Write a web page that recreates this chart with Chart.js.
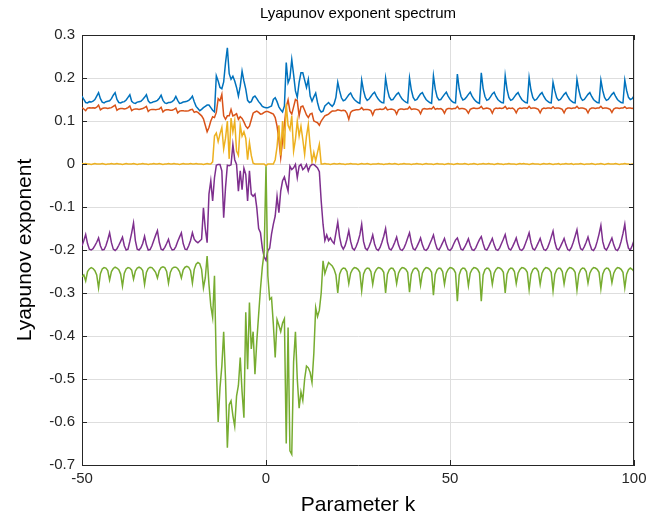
<!DOCTYPE html>
<html>
<head>
<meta charset="utf-8">
<script src="https://cdn.jsdelivr.net/npm/chart.js@4.4.1/dist/chart.umd.min.js"></script>
<style>
  html, body { margin: 0; padding: 0; background: #fff; }
  #wrap { width: 656px; height: 520px; }
</style>
</head>
<body>
<div id="wrap"><canvas id="lyapChart" width="656" height="520"></canvas></div>
<script>
// Parameter k runs from -50 to 100 in steps of 0.5 (301 samples)
const kStart = -50;
const kStep = 0.5;

// first exponent (blue)
const lyap1 = [
  0.158, 0.150, 0.143, 0.142, 0.145, 0.144, 0.146, 0.150, 0.158, 0.166,
  0.152, 0.144, 0.142, 0.145, 0.146, 0.147, 0.152, 0.160, 0.166, 0.150,
  0.143, 0.142, 0.144, 0.145, 0.149, 0.155, 0.161, 0.146, 0.142, 0.141,
  0.144, 0.145, 0.146, 0.150, 0.155, 0.161, 0.147, 0.142, 0.143, 0.145,
  0.146, 0.148, 0.153, 0.160, 0.148, 0.142, 0.141, 0.143, 0.143, 0.145,
  0.149, 0.157, 0.148, 0.141, 0.142, 0.144, 0.145, 0.146, 0.148, 0.152,
  0.158, 0.145, 0.134, 0.129, 0.124, 0.127, 0.131, 0.134, 0.137, 0.137,
  0.131, 0.125, 0.121, 0.205, 0.193, 0.178, 0.175, 0.191, 0.235, 0.270,
  0.210, 0.197, 0.204, 0.193, 0.178, 0.158, 0.181, 0.216, 0.193, 0.174,
  0.148, 0.143, 0.145, 0.155, 0.158, 0.152, 0.145, 0.140, 0.134, 0.132,
  0.131, 0.131, 0.133, 0.135, 0.150, 0.154, 0.145, 0.133, 0.126, 0.121,
  0.135, 0.236, 0.189, 0.200, 0.243, 0.208, 0.170, 0.155, 0.190, 0.212,
  0.212, 0.195, 0.178, 0.197, 0.158, 0.146, 0.156, 0.165, 0.143, 0.127,
  0.121, 0.123, 0.135, 0.139, 0.143, 0.138, 0.134, 0.140, 0.155, 0.190,
  0.170, 0.154, 0.147, 0.149, 0.155, 0.161, 0.165, 0.156, 0.150, 0.146,
  0.143, 0.141, 0.195, 0.171, 0.155, 0.148, 0.151, 0.157, 0.163, 0.167,
  0.158, 0.151, 0.146, 0.143, 0.142, 0.200, 0.173, 0.156, 0.149, 0.150,
  0.156, 0.162, 0.166, 0.158, 0.151, 0.147, 0.144, 0.142, 0.200, 0.172,
  0.155, 0.148, 0.150, 0.157, 0.163, 0.166, 0.157, 0.150, 0.146, 0.143,
  0.141, 0.205, 0.174, 0.156, 0.149, 0.150, 0.156, 0.162, 0.167, 0.158,
  0.151, 0.146, 0.143, 0.142, 0.209, 0.175, 0.157, 0.149, 0.151, 0.156,
  0.162, 0.167, 0.158, 0.151, 0.146, 0.143, 0.141, 0.212, 0.176, 0.157,
  0.148, 0.150, 0.156, 0.163, 0.167, 0.157, 0.150, 0.146, 0.143, 0.142,
  0.205, 0.173, 0.155, 0.148, 0.150, 0.156, 0.162, 0.166, 0.157, 0.150,
  0.146, 0.143, 0.142, 0.201, 0.172, 0.155, 0.148, 0.150, 0.156, 0.162,
  0.166, 0.157, 0.150, 0.146, 0.143, 0.142, 0.190, 0.170, 0.154, 0.148,
  0.150, 0.156, 0.162, 0.166, 0.157, 0.150, 0.146, 0.143, 0.142, 0.197,
  0.172, 0.155, 0.148, 0.150, 0.156, 0.162, 0.166, 0.157, 0.150, 0.146,
  0.143, 0.142, 0.195, 0.171, 0.155, 0.148, 0.150, 0.156, 0.162, 0.166,
  0.157, 0.150, 0.146, 0.143, 0.142, 0.195, 0.171, 0.155, 0.150, 0.152,
  0.158
];

// second exponent (orange)
const lyap2 = [
  0.131, 0.128, 0.124, 0.130, 0.131, 0.130, 0.131, 0.130, 0.132, 0.137,
  0.126, 0.129, 0.130, 0.130, 0.129, 0.130, 0.131, 0.134, 0.137, 0.125,
  0.128, 0.129, 0.129, 0.128, 0.129, 0.131, 0.135, 0.124, 0.127, 0.128,
  0.128, 0.127, 0.128, 0.129, 0.131, 0.134, 0.122, 0.126, 0.127, 0.127,
  0.126, 0.127, 0.128, 0.132, 0.121, 0.125, 0.126, 0.126, 0.125, 0.125,
  0.127, 0.130, 0.119, 0.123, 0.124, 0.124, 0.123, 0.123, 0.124, 0.126,
  0.127, 0.120, 0.122, 0.120, 0.116, 0.112, 0.105, 0.090, 0.075, 0.085,
  0.100, 0.110, 0.108, 0.120, 0.152, 0.147, 0.162, 0.112, 0.104, 0.112,
  0.112, 0.127, 0.112, 0.114, 0.117, 0.104, 0.110, 0.106, 0.098, 0.088,
  0.083, 0.088, 0.103, 0.118, 0.121, 0.123, 0.120, 0.116, 0.117, 0.120,
  0.122, 0.122, 0.120, 0.118, 0.116, 0.108, 0.088, 0.057, 0.015, 0.054,
  0.092, 0.133, 0.149, 0.123, 0.116, 0.133, 0.150, 0.147, 0.112, 0.133,
  0.135, 0.125, 0.114, 0.108, 0.116, 0.118, 0.100, 0.098, 0.096, 0.090,
  0.100, 0.106, 0.112, 0.114, 0.116, 0.120, 0.123, 0.123, 0.124, 0.126,
  0.125, 0.124, 0.125, 0.124, 0.118, 0.104, 0.120, 0.124, 0.125, 0.126,
  0.126, 0.127, 0.131, 0.126, 0.127, 0.127, 0.126, 0.124, 0.114, 0.125,
  0.127, 0.127, 0.128, 0.127, 0.128, 0.132, 0.126, 0.127, 0.128, 0.127,
  0.125, 0.116, 0.126, 0.128, 0.128, 0.127, 0.128, 0.128, 0.133, 0.127,
  0.128, 0.128, 0.127, 0.125, 0.117, 0.127, 0.129, 0.128, 0.128, 0.129,
  0.128, 0.133, 0.127, 0.129, 0.128, 0.129, 0.126, 0.118, 0.127, 0.129,
  0.129, 0.128, 0.129, 0.129, 0.134, 0.128, 0.129, 0.129, 0.128, 0.125,
  0.118, 0.127, 0.129, 0.130, 0.129, 0.129, 0.130, 0.134, 0.128, 0.129,
  0.130, 0.129, 0.127, 0.118, 0.128, 0.130, 0.129, 0.130, 0.129, 0.130,
  0.134, 0.128, 0.130, 0.129, 0.130, 0.127, 0.119, 0.128, 0.130, 0.129,
  0.130, 0.130, 0.129, 0.134, 0.129, 0.130, 0.130, 0.129, 0.127, 0.119,
  0.128, 0.130, 0.129, 0.130, 0.130, 0.129, 0.133, 0.129, 0.130, 0.130,
  0.129, 0.127, 0.119, 0.128, 0.130, 0.130, 0.129, 0.130, 0.130, 0.134,
  0.129, 0.130, 0.130, 0.129, 0.127, 0.119, 0.128, 0.130, 0.130, 0.129,
  0.130, 0.130, 0.134, 0.129, 0.130, 0.130, 0.129, 0.127, 0.120, 0.128,
  0.130, 0.130, 0.129, 0.130, 0.130, 0.133, 0.129, 0.130, 0.130, 0.129,
  0.130
];

// third exponent (yellow)
const lyap3 = [
  0.001, 0.000, 0.001, 0.000, 0.000, -0.001, 0.000, 0.001, 0.000, 0.000,
  0.000, 0.001, 0.000, -0.001, 0.000, 0.000, 0.001, 0.000, 0.000, 0.001,
  0.000, 0.000, -0.001, 0.000, 0.001, 0.000, 0.000, 0.000, 0.001, 0.000,
  -0.001, 0.000, 0.000, 0.001, 0.000, 0.000, -0.001, 0.000, 0.000, 0.001,
  0.000, 0.000, 0.001, 0.000, -0.001, 0.000, 0.000, 0.001, 0.000, 0.000,
  0.001, 0.000, 0.000, -0.001, 0.000, 0.001, 0.000, 0.000, 0.000, 0.001,
  0.000, 0.000, 0.001, 0.000, 0.000, 0.000, -0.001, 0.000, 0.001, 0.000,
  0.000, 0.005, 0.065, 0.072, 0.052, 0.070, 0.085, 0.035, 0.060, 0.100,
  0.012, 0.107, 0.075, 0.100, 0.030, 0.020, 0.090, 0.065, 0.075, 0.060,
  0.010, 0.050, 0.020, 0.002, 0.000, 0.000, 0.000, 0.000, 0.000, 0.000,
  -0.004, 0.000, 0.000, 0.000, 0.000, 0.010, 0.040, 0.090, 0.020, 0.100,
  0.035, 0.140, 0.090, 0.080, 0.112, 0.030, 0.057, 0.100, 0.065, 0.088,
  0.057, 0.022, 0.065, 0.092, 0.042, 0.005, 0.027, 0.007, 0.027, 0.046,
  0.000, 0.000, 0.001, 0.000, 0.000, -0.001, 0.000, 0.001, 0.000, 0.000,
  0.001, 0.000, 0.000, -0.001, 0.000, 0.000, 0.001, 0.000, 0.000, 0.000,
  -0.001, 0.000, 0.001, 0.000, 0.000, 0.001, 0.000, -0.001, 0.000, 0.000,
  0.000, 0.001, 0.000, 0.000, -0.001, 0.000, 0.000, 0.001, 0.000, 0.000,
  0.001, 0.000, -0.001, 0.000, 0.000, 0.001, 0.000, 0.000, 0.000, -0.001,
  0.000, 0.000, 0.001, 0.000, 0.000, -0.001, 0.000, 0.001, 0.000, 0.000,
  0.000, -0.001, 0.000, 0.001, 0.000, 0.000, 0.000, -0.001, 0.000, 0.001,
  0.000, 0.000, -0.001, 0.000, 0.001, 0.000, 0.000, 0.000, 0.001, 0.000,
  -0.001, 0.000, 0.000, 0.001, 0.000, -0.001, 0.000, 0.000, 0.001, 0.000,
  0.000, 0.001, 0.000, 0.000, -0.001, 0.000, 0.001, 0.000, 0.000, -0.001,
  0.000, 0.000, 0.001, 0.000, 0.000, 0.000, -0.001, 0.000, 0.001, 0.000,
  0.001, 0.000, 0.000, -0.001, 0.000, 0.001, 0.000, 0.000, 0.000, -0.001,
  0.000, 0.001, 0.000, 0.000, 0.001, 0.000, -0.001, 0.000, 0.000, 0.001,
  -0.001, 0.000, 0.000, 0.001, 0.000, 0.000, 0.001, -0.001, 0.000, 0.000,
  0.000, 0.001, 0.000, -0.001, 0.000, 0.000, 0.000, 0.001, 0.000, -0.001,
  0.000, 0.000, 0.001, 0.000, -0.001, 0.000, 0.001, 0.000, 0.000, 0.000,
  0.001, 0.000, -0.001, 0.000, 0.000, 0.001, 0.000, 0.000, -0.001, 0.000,
  0.000
];

// fourth exponent (purple)
const lyap4 = [
  -0.190, -0.178, -0.164, -0.185, -0.198, -0.200, -0.197, -0.190, -0.182, -0.172,
  -0.190, -0.200, -0.199, -0.190, -0.176, -0.160, -0.183, -0.198, -0.201, -0.197,
  -0.189, -0.180, -0.170, -0.190, -0.200, -0.198, -0.180, -0.160, -0.137, -0.178,
  -0.198, -0.200, -0.195, -0.185, -0.168, -0.188, -0.200, -0.199, -0.190, -0.178,
  -0.166, -0.155, -0.182, -0.198, -0.200, -0.194, -0.185, -0.175, -0.192, -0.200,
  -0.199, -0.192, -0.180, -0.170, -0.160, -0.185, -0.198, -0.199, -0.190, -0.178,
  -0.160, -0.175, -0.180, -0.183, -0.179, -0.175, -0.102, -0.150, -0.183, -0.070,
  -0.039, -0.086, -0.032, -0.003, -0.001, -0.001, -0.016, -0.125, -0.055, -0.003,
  -0.004, -0.002, 0.045, 0.010, -0.001, -0.063, -0.016, -0.060, -0.010, -0.024,
  -0.086, -0.016, -0.070, -0.075, -0.070, -0.102, -0.150, -0.160, -0.195, -0.216,
  -0.224, -0.202, -0.196, -0.163, -0.140, -0.121, -0.075, -0.113, -0.063, -0.039,
  -0.030, -0.047, -0.063, -0.005, -0.013, -0.009, -0.001, -0.032, -0.005, -0.001,
  -0.013, -0.009, -0.001, -0.016, -0.005, -0.001, -0.001, -0.005, -0.009, -0.018,
  -0.086, -0.140, -0.178, -0.165, -0.178, -0.172, -0.180, -0.185, -0.160, -0.135,
  -0.170, -0.190, -0.198, -0.190, -0.175, -0.155, -0.180, -0.196, -0.200, -0.192,
  -0.180, -0.165, -0.140, -0.180, -0.196, -0.200, -0.192, -0.180, -0.165, -0.186,
  -0.198, -0.201, -0.194, -0.182, -0.168, -0.150, -0.182, -0.197, -0.200, -0.192,
  -0.182, -0.170, -0.188, -0.199, -0.201, -0.195, -0.185, -0.172, -0.160, -0.183,
  -0.197, -0.200, -0.192, -0.183, -0.172, -0.188, -0.199, -0.201, -0.196, -0.186,
  -0.176, -0.165, -0.184, -0.197, -0.200, -0.192, -0.183, -0.173, -0.188, -0.199,
  -0.201, -0.196, -0.186, -0.177, -0.172, -0.185, -0.198, -0.200, -0.193, -0.184,
  -0.174, -0.189, -0.199, -0.201, -0.195, -0.185, -0.176, -0.169, -0.185, -0.198,
  -0.200, -0.192, -0.183, -0.173, -0.188, -0.199, -0.201, -0.195, -0.185, -0.175,
  -0.164, -0.184, -0.197, -0.200, -0.192, -0.183, -0.172, -0.188, -0.199, -0.201,
  -0.196, -0.185, -0.173, -0.160, -0.183, -0.197, -0.200, -0.192, -0.183, -0.173,
  -0.188, -0.199, -0.201, -0.195, -0.184, -0.170, -0.156, -0.182, -0.197, -0.200,
  -0.192, -0.183, -0.173, -0.188, -0.199, -0.201, -0.194, -0.182, -0.168, -0.153,
  -0.181, -0.197, -0.200, -0.192, -0.182, -0.170, -0.186, -0.199, -0.201, -0.194,
  -0.180, -0.163, -0.143, -0.180, -0.196, -0.200, -0.192, -0.182, -0.172, -0.188,
  -0.199, -0.201, -0.194, -0.180, -0.162, -0.140, -0.178, -0.196, -0.200, -0.190,
  -0.178
];

// fifth exponent (green)
const lyap5 = [
  -0.262, -0.258, -0.272, -0.250, -0.244, -0.241, -0.243, -0.248, -0.258, -0.288,
  -0.255, -0.244, -0.241, -0.242, -0.248, -0.270, -0.250, -0.243, -0.240, -0.242,
  -0.246, -0.256, -0.284, -0.254, -0.244, -0.241, -0.242, -0.247, -0.268, -0.249,
  -0.242, -0.240, -0.242, -0.248, -0.280, -0.252, -0.243, -0.240, -0.241, -0.246,
  -0.252, -0.265, -0.248, -0.241, -0.239, -0.241, -0.250, -0.277, -0.252, -0.243,
  -0.240, -0.240, -0.243, -0.250, -0.265, -0.246, -0.240, -0.238, -0.240, -0.248,
  -0.277, -0.245, -0.233, -0.229, -0.232, -0.245, -0.288, -0.265, -0.214, -0.280,
  -0.330, -0.357, -0.260, -0.470, -0.600, -0.520, -0.470, -0.390, -0.500, -0.660,
  -0.560, -0.551, -0.585, -0.610, -0.540, -0.515, -0.450, -0.530, -0.590, -0.345,
  -0.477, -0.322, -0.430, -0.390, -0.489, -0.412, -0.350, -0.290, -0.240, -0.205,
  -0.005, -0.260, -0.315, -0.311, -0.373, -0.450, -0.362, -0.375, -0.390, -0.370,
  -0.360, -0.650, -0.380, -0.667, -0.675, -0.460, -0.390, -0.500, -0.568, -0.530,
  -0.550, -0.500, -0.470, -0.474, -0.485, -0.508, -0.440, -0.334, -0.355, -0.340,
  -0.300, -0.225, -0.255, -0.241, -0.229, -0.233, -0.237, -0.245, -0.258, -0.300,
  -0.256, -0.246, -0.242, -0.243, -0.250, -0.278, -0.254, -0.245, -0.241, -0.242,
  -0.245, -0.252, -0.295, -0.256, -0.246, -0.242, -0.243, -0.250, -0.280, -0.254,
  -0.245, -0.241, -0.242, -0.245, -0.252, -0.300, -0.256, -0.246, -0.242, -0.243,
  -0.250, -0.278, -0.254, -0.245, -0.241, -0.242, -0.245, -0.252, -0.298, -0.256,
  -0.246, -0.242, -0.243, -0.250, -0.282, -0.254, -0.245, -0.241, -0.242, -0.245,
  -0.252, -0.305, -0.257, -0.246, -0.242, -0.243, -0.250, -0.280, -0.254, -0.245,
  -0.241, -0.242, -0.245, -0.253, -0.319, -0.258, -0.246, -0.242, -0.243, -0.250,
  -0.283, -0.254, -0.245, -0.241, -0.242, -0.245, -0.253, -0.319, -0.258, -0.246,
  -0.242, -0.243, -0.250, -0.280, -0.254, -0.245, -0.241, -0.242, -0.245, -0.252,
  -0.300, -0.256, -0.246, -0.242, -0.243, -0.250, -0.278, -0.254, -0.245, -0.241,
  -0.242, -0.245, -0.252, -0.292, -0.256, -0.246, -0.242, -0.243, -0.250, -0.280,
  -0.254, -0.245, -0.241, -0.242, -0.245, -0.252, -0.295, -0.256, -0.246, -0.242,
  -0.243, -0.250, -0.279, -0.254, -0.245, -0.241, -0.242, -0.245, -0.252, -0.293,
  -0.256, -0.246, -0.242, -0.243, -0.250, -0.277, -0.254, -0.245, -0.241, -0.242,
  -0.245, -0.252, -0.290, -0.256, -0.246, -0.242, -0.243, -0.250, -0.276, -0.254,
  -0.245, -0.241, -0.242, -0.245, -0.252, -0.288, -0.256, -0.246, -0.242, -0.245,
  -0.250
];

const xTicks = [-50, 0, 50, 100];
const yTicks = [0.3, 0.2, 0.1, 0, -0.1, -0.2, -0.3, -0.4, -0.5, -0.6, -0.7];

const titleText = 'Lyapunov exponent spectrum';
const xTitle = 'Parameter k';
const yTitle = 'Lyapunov exponent';

// MATLAB default line colours
const seriesColors = ['#0072BD', '#D95319', '#EDB120', '#7E2F8E', '#77AC30'];

const FONT = '"Liberation Sans", Arial, Helvetica, sans-serif';
Chart.defaults.font.family = FONT;
Chart.defaults.color = '#262626';

let toPoints = (arr) => arr.map((v, i) => ({x: kStart + i * kStep, y: v}));

const allSeries = [lyap1, lyap2, lyap3, lyap4, lyap5];

// later series drawn on top, like MATLAB
const datasets = allSeries.map((arr, i) => ({
    data: toPoints(arr),
    borderColor: seriesColors[i],
    backgroundColor: seriesColors[i],
    borderWidth: 1.5,
    pointRadius: 0,
    tension: 0,
    fill: false,
    order: allSeries.length - i,
}));

// box on top/right, inward tick marks and the text labels
const matlabFrame = {
    id: 'matlabFrame',
    afterDraw(chart) {
        const {ctx, chartArea: a, scales} = chart;
        ctx.save();
        ctx.strokeStyle = '#262626';
        ctx.lineWidth = 1;
        ctx.beginPath();
        ctx.moveTo(a.left, a.top + 0.5);
        ctx.lineTo(a.right, a.top + 0.5);
        ctx.moveTo(a.right - 0.5, a.top);
        ctx.lineTo(a.right - 0.5, a.bottom);
        xTicks.forEach((t) => {
            const x = Math.round(scales.x.getPixelForValue(t)) + 0.5;
            ctx.moveTo(x, a.bottom);
            ctx.lineTo(x, a.bottom - 5);
            ctx.moveTo(x, a.top);
            ctx.lineTo(x, a.top + 5);
        });
        yTicks.forEach((t) => {
            const y = Math.round(scales.y.getPixelForValue(t)) + 0.5;
            ctx.moveTo(a.left, y);
            ctx.lineTo(a.left + 5, y);
            ctx.moveTo(a.right, y);
            ctx.lineTo(a.right - 5, y);
        });
        ctx.stroke();

        const cx = (a.left + a.right) / 2;
        ctx.fillStyle = '#000';
        ctx.textAlign = 'center';
        ctx.textBaseline = 'middle';
        ctx.font = `15px ${FONT}`;
        ctx.fillText(titleText, cx, 14);
        ctx.font = `21px ${FONT}`;
        ctx.fillText(xTitle, cx, 505);
        ctx.translate(25, (a.top + a.bottom) / 2);
        ctx.rotate(-Math.PI / 2);
        ctx.fillText(yTitle, 0, 0);
        ctx.restore();
    }
};

let lyapChart = new Chart(document.getElementById('lyapChart').getContext('2d'), {
    type: 'line',
    data: { datasets: datasets },
    options: {
        responsive: false,
        animation: false,
        layout: {
            padding: { top: 35, right: 22, left: 0, bottom: 0 }
        },
        plugins: {
            legend: { display: false },
            tooltip: { enabled: false },
            title: { display: false },
        },
        scales: {
            x: {
                type: 'linear',
                min: -50,
                max: 100,
                afterFit: (s) => { s.height = 55; },
                afterBuildTicks: (s) => { s.ticks = xTicks.map((v) => ({value: v})); },
                ticks: {
                    font: { size: 15 },
                    color: '#262626',
                    padding: 5,
                    maxRotation: 0,
                    callback: (v) => String(v),
                },
                grid: {
                    color: '#dedede',
                    lineWidth: 1,
                    drawTicks: false,
                },
                border: { display: true, color: '#262626', width: 1 },
            },
            y: {
                min: -0.7,
                max: 0.3,
                afterFit: (s) => { s.width = 82; },
                afterBuildTicks: (s) => { s.ticks = yTicks.map((v) => ({value: v})); },
                ticks: {
                    font: { size: 15 },
                    color: '#262626',
                    padding: 7,
                    callback: (v) => {
                        const r = Math.round(v * 10) / 10;
                        return r === 0 ? '0' : r.toFixed(1);
                    },
                },
                grid: {
                    color: '#dedede',
                    lineWidth: 1,
                    drawTicks: false,
                },
                border: { display: true, color: '#262626', width: 1 },
            }
        }
    },
    plugins: [matlabFrame],
});
</script>
</body>
</html>
